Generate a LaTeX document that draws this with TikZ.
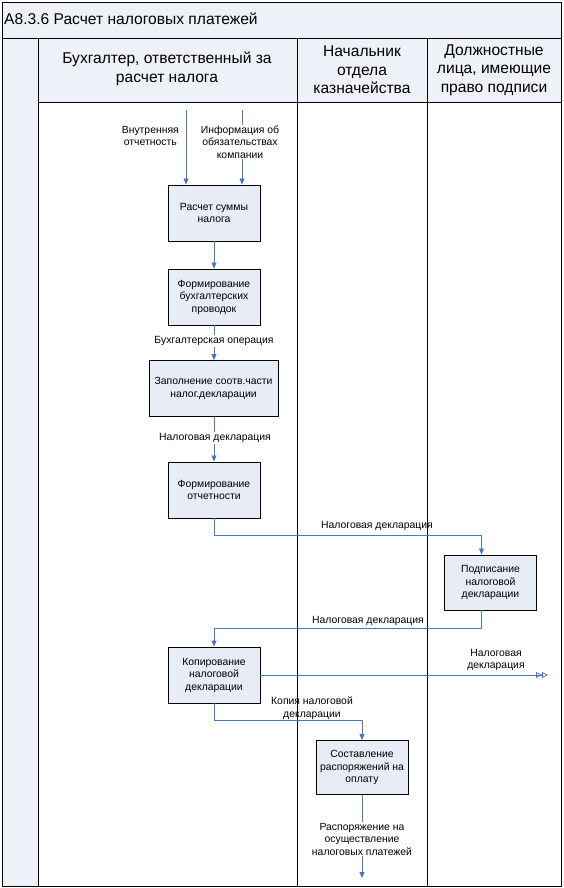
\documentclass[tikz,border=0pt]{standalone}
\usepackage{fontspec}
\setmainfont{Liberation Sans}
\usetikzlibrary{arrows.meta}
\definecolor{flowblue}{HTML}{4A78BE}
\definecolor{boxfill}{HTML}{E7ECF6}
\definecolor{bandfill}{HTML}{EEF2F8}
\begin{document}
\begin{tikzpicture}[x=1pt,y=-1pt,
  proc/.style={draw=black, fill=boxfill, line width=0.9pt, minimum width=92pt, minimum height=56pt, align=center, font=\fontsize{10.4}{12.5}\selectfont, inner sep=2pt},
  flow/.style={draw=flowblue, line width=0.8pt, -{Triangle[length=6pt,width=5pt]}},
  tunnel/.style={draw=flowblue, line width=0.8pt, -{Triangle[open,length=6pt,width=6pt]Triangle[open,length=6pt,width=6pt]}},
  lbl/.style={fill=white, align=center, font=\fontsize{10.4}{12.5}\selectfont, inner sep=1pt},
  hdr/.style={align=center, font=\fontsize{15.6}{18.5}\selectfont},
  frame/.style={draw=black, line width=0.9pt}]
\useasboundingbox (0,0) rectangle (563,888);
% bands
\fill[bandfill] (2,2) rectangle (561,38);
\fill[bandfill] (2,38) rectangle (38,886);
\fill[bandfill] (38,38) rectangle (561,102);
\draw[frame] (2,2) rectangle (561,886);
\draw[frame] (2,38) -- (561,38);
\draw[frame] (38,38) -- (38,886);
\draw[frame] (38,102) -- (561,102);
\draw[frame] (297,38) -- (297,886);
\draw[frame] (427,38) -- (427,886);
% title and headers
\node[anchor=west, font=\fontsize{15.6}{18}\selectfont, inner sep=0pt] (title) at (4,19) {A8.3.6 Расчет налоговых платежей};
\node[hdr] (h1) at (167,69) {Бухгалтер, ответственный за\\расчет налога};
\node[hdr] (h2) at (362,70) {Начальник\\отдела\\казначейства};
\node[hdr] (h3) at (494,70) {Должностные\\лица, имеющие\\право подписи};
% boxes
\node[proc] (b1) at (214,213) {Расчет суммы\\налога};
\node[proc] (b2) at (214,297) {Формирование\\бухгалтерских\\проводок};
\node[proc, minimum width=129pt] (b3) at (213.5,388.5) {Заполнение соотв.части\\налог.декларации};
\node[proc] (b4) at (214,490) {Формирование\\отчетности};
\node[proc, minimum height=55pt] (b5) at (490.5,582.5) {Подписание\\налоговой\\декларации};
\node[proc] (b6) at (214,675) {Копирование\\налоговой\\декларации};
\node[proc, minimum width=92pt, minimum height=54pt] (b7) at (362,767.5) {Составление\\распоряжений на\\оплату};
% free ends
\coordinate (in1) at (186,110);
\coordinate (in2) at (242,110);
\coordinate (out1) at (548,675);
\coordinate (out2) at (362,878);
% connectors
\draw[flow] (in1) -- (in1 |- b1.north);
\node[lbl, anchor=east] (l1) at (180,136) {Внутренняя\\отчетность};
\draw[flow] (in2) -- (in2 |- b1.north);
\node[lbl] (l2) at (240,142) {Информация об\\обязательствах\\компании};
\draw[flow] (b1) -- (b2);
\draw[flow] (b2.south) -- (b2.south |- b3.north);
\node[lbl] (l3) at (214,341) {Бухгалтерская операция};
\draw[flow] (b3.south -| b4) -- (b4.north);
\node[lbl] (l4) at (215,438) {Налоговая декларация};
\draw[flow] (b4.south) -- ++(0,17) -| ([xshift=-9pt]b5.north);
\node[lbl, fill=none] (l5) at (377,526) {Налоговая декларация};
\draw[flow] ([xshift=-9pt]b5.south) -- ++(0,18) -| (b6.north);
\node[lbl, fill=none] (l6) at (368,621) {Налоговая декларация};
\draw[tunnel] (b6.east) -- (out1);
\node[lbl, fill=none] (l7) at (496,660) {Налоговая\\декларация};
\draw[flow] (b6.south) -- ++(0,17) -| (b7.north);
\node[lbl, fill=none] (l8) at (312,708) {Копия налоговой\\декларации};
\draw[flow] (b7.south) -- (out2);
\node[lbl] (l9) at (362,839) {Распоряжение на\\осуществление\\налоговых платежей};
\end{tikzpicture}
\end{document}
